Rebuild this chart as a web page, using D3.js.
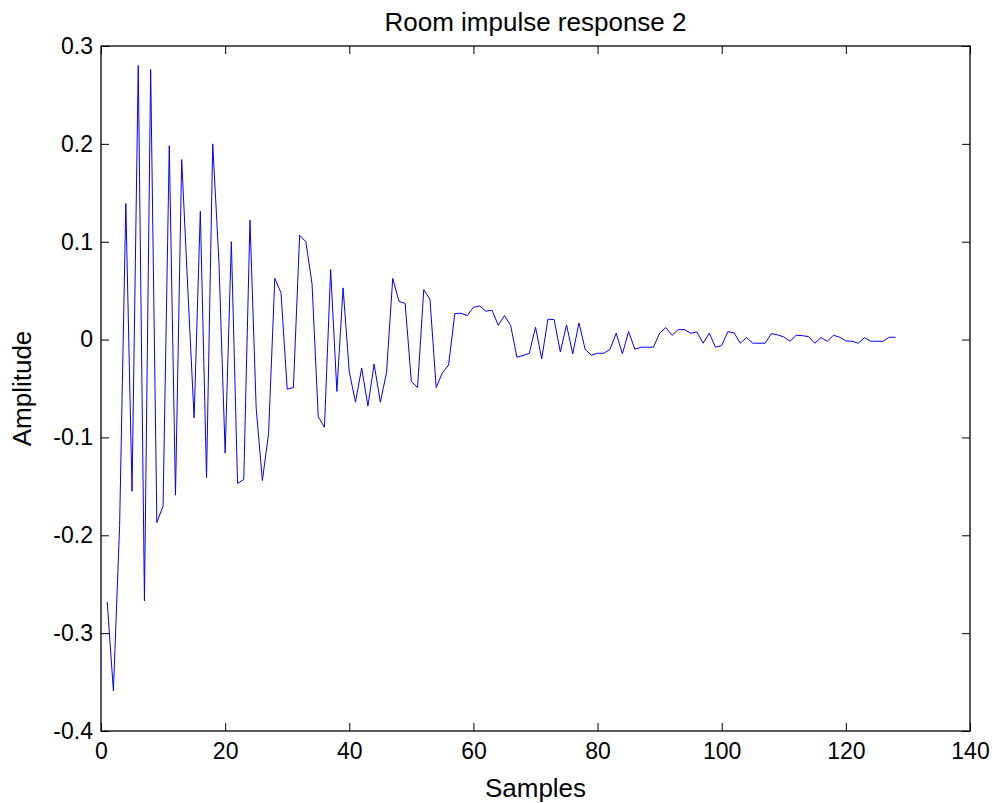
<!DOCTYPE html>
<html>
<head>
<meta charset="utf-8">
<script src="https://cdn.jsdelivr.net/npm/d3@7"></script>
<style>
    body { margin: 0; background: #fff; }
    .chart text { font-family: "Liberation Sans", Arial, Helvetica, sans-serif; fill: #000; }
</style>
</head>
<body>
<div id="chart"></div>
<script>
const title = "Room impulse response 2";
const xLabel = "Samples";
const yLabel = "Amplitude";

const xTicks = [0, 20, 40, 60, 80, 100, 120, 140];
const yTicks = [-0.4, -0.3, -0.2, -0.1, 0, 0.1, 0.2, 0.3];

// amplitude for samples 1..128
const amplitude = [
    -0.268, -0.359, -0.19, 0.139, -0.155, 0.280, -0.267, 0.276, -0.187, -0.170,
    0.198, -0.159, 0.184, 0.05, -0.08, 0.131, -0.141, 0.200, 0.08, -0.116,
    0.100, -0.147, -0.143, 0.122, -0.07, -0.144, -0.096, 0.0626, 0.0477, -0.0507,
    -0.049, 0.1066, 0.100, 0.057, -0.079, -0.0896, 0.0715, -0.053, 0.0528, -0.033,
    -0.064, -0.029, -0.068, -0.025, -0.064, -0.034, 0.0626, 0.039, 0.037, -0.043,
    -0.049, 0.051, 0.041, -0.049, -0.034, -0.026, 0.0266, 0.0269, 0.0245, 0.033,
    0.0344, 0.029, 0.030, 0.0146, 0.0245, 0.0143, -0.018, -0.0163, -0.014, 0.0126,
    -0.0197, 0.0208, 0.0204, -0.0126, 0.015, -0.0146, 0.017, -0.010, -0.016, -0.014,
    -0.014, -0.010, 0.0065, -0.0146, 0.0082, -0.0099, -0.0078, -0.0078, -0.0078, 0.0065,
    0.0122, 0.0044, 0.0102, 0.0102, 0.0065, 0.0078, -0.0037, 0.0065, -0.0078, -0.0061,
    0.0082, 0.0068, -0.0037, 0.002, -0.0037, -0.0037, -0.0037, 0.0061, 0.0048, 0.0027,
    -0.0017, 0.0044, 0.004, 0.003, -0.0037, 0.002, -0.0017, 0.0044, 0.0024, -0.0013,
    -0.0017, -0.0037, 0.002, -0.0017, -0.0017, -0.0017, 0.0024, 0.0024
];

class ImpulsePlot{
    constructor(parentSelector, values){
        this.parent = d3.select(parentSelector);
        this.dataset = values.map((v, i) => ({n: i + 1, v}));

        this.wSvg = 998;
        this.hSvg = 803;
        this.margin = {left: 101, right: 28, top: 46, bottom: 72};
        this.tickLen = 8;
        this.init();
    }

    init(){
        this.svg = this.parent.append("svg")
            .attr("width", this.wSvg)
            .attr("height", this.hSvg)
            .classed("chart", true);

        this.prepScales();
        this.renderAxes();
        this.renderLine();
        this.renderLabels();
    }

    prepScales(){
        this.xScale = d3.scaleLinear()
            .domain([0, 140])
            .range([this.margin.left, this.wSvg - this.margin.right]);

        this.yScale = d3.scaleLinear()
            .domain([-0.4, 0.3])
            .range([this.hSvg - this.margin.bottom, this.margin.top]);
    }

    renderAxes(){
        const [x0, x1] = this.xScale.range();
        const [y0, y1] = this.yScale.range();
        const t = this.tickLen;
        const fmt = d => d === 0 ? "0" : d3.format(".1f")(d).replace("\u2212", "-");

        const bottom = d3.axisBottom(this.xScale).tickValues(xTicks).tickSizeInner(-t).tickSizeOuter(0).tickPadding(4 + t);
        const top = d3.axisTop(this.xScale).tickValues(xTicks).tickSizeInner(-t).tickSizeOuter(0).tickFormat("");
        const left = d3.axisLeft(this.yScale).tickValues(yTicks).tickSizeInner(-t).tickSizeOuter(0).tickPadding(t).tickFormat(fmt);
        const right = d3.axisRight(this.yScale).tickValues(yTicks).tickSizeInner(-t).tickSizeOuter(0).tickFormat("");

        const style = g => {
            g.select(".domain").remove();
            g.selectAll(".tick line").attr("stroke", "#000").attr("stroke-width", 1);
            g.selectAll("text").attr("font-size", 23).attr("fill", "#000");
        };

        this.svg.append("g").attr("transform", `translate(0,${y0})`).call(bottom).call(style);
        this.svg.append("g").attr("transform", `translate(0,${y1})`).call(top).call(style);
        this.svg.append("g").attr("transform", `translate(${x0},0)`).call(left).call(style);
        this.svg.append("g").attr("transform", `translate(${x1},0)`).call(right).call(style);

        this.svg.append("rect")
            .attr("x", x0)
            .attr("y", y1)
            .attr("width", x1 - x0)
            .attr("height", y0 - y1)
            .attr("fill", "none")
            .attr("stroke", "#000")
            .attr("stroke-width", 1.3);
    }

    renderLine(){
        const line = d3.line()
            .x(d => this.xScale(d.n))
            .y(d => this.yScale(d.v));

        this.svg.append("path")
            .datum(this.dataset)
            .attr("d", line)
            .attr("fill", "none")
            .attr("stroke", "#0000ff")
            .attr("stroke-width", 1);
    }

    renderLabels(){
        const [x0, x1] = this.xScale.range();
        const [y0, y1] = this.yScale.range();

        this.svg.append("text")
            .attr("x", (x0 + x1) / 2)
            .attr("y", 31)
            .attr("text-anchor", "middle")
            .attr("font-size", 26)
            .text(title);

        this.svg.append("text")
            .attr("x", (x0 + x1) / 2)
            .attr("y", 797)
            .attr("text-anchor", "middle")
            .attr("font-size", 26)
            .text(xLabel);

        this.svg.append("text")
            .attr("transform", `translate(31,${(y0 + y1) / 2}) rotate(-90)`)
            .attr("text-anchor", "middle")
            .attr("font-size", 26)
            .text(yLabel);
    }
}

new ImpulsePlot("#chart", amplitude);
</script>
</body>
</html>
